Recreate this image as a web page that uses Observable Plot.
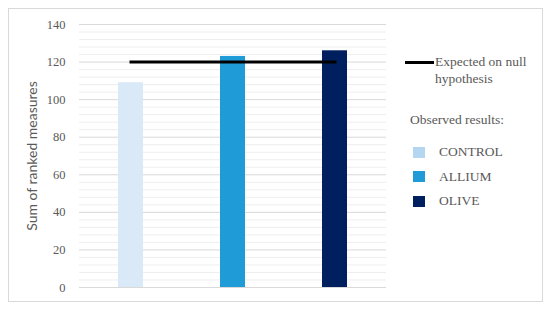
<!DOCTYPE html>
<html>
<head>
<meta charset="utf-8">
<script src="https://cdn.jsdelivr.net/npm/d3@7"></script>
<script src="https://cdn.jsdelivr.net/npm/@observablehq/plot@0.6"></script>
<style>
  html, body { margin: 0; padding: 0; background: #fff; }
  #wrap { position: relative; width: 550px; height: 311px; }
  #frame {
    position: absolute; left: 8px; top: 8px; width: 535px; height: 294px;
    border: 1px solid #d9d9d9; box-sizing: border-box; pointer-events: none;
  }
  #chart { position: absolute; left: 0; top: 0; }
  #legend {
    position: absolute; left: 405px; top: 53px;
    font-family: "Liberation Serif", serif; font-size: 13.5px; color: #595959;
  }
  #legend .exp { display: flex; align-items: flex-start; line-height: 17px; }
  #legend .exp .ln { width: 29px; height: 3px; background: #000; margin-top: 8px; flex: none; }
  #legend .exp .tx { margin-left: 1px; }
  #legend .obs { margin-top: 25px; margin-left: 5px; }
  #legend .item { display: flex; align-items: center; margin-top: 18px; margin-left: 8px; height: 12px; }
  #legend .sw { width: 12px; height: 11px; flex: none; }
  #legend .item span { margin-left: 14px; }
  #legend .item + .item { margin-top: 12.5px; }
</style>
</head>
<body>
<div id="wrap">
  <div id="chart"></div>
  <div id="frame"></div>
  <div id="legend"></div>
</div>
<script>
// Sum of ranked measures per treatment group
const groups = ["CONTROL", "ALLIUM", "OLIVE"];
const sums = [109, 123, 126];
const expectedSum = 120;
const barColors = ["#dae9f7", "#1f9bd7", "#001f5f"];
const swatchColors = ["#b5d6f1", "#1f9bd7", "#001f5f"];
const majorTicks = [0, 20, 40, 60, 80, 100, 120, 140];
const minorTicks = d3.range(0, 141, 4).filter(v => v % 20 !== 0);

const data = groups.map((g, i) => ({group: g, sum: sums[i]}));
const expectedLine = groups.map(g => ({group: g, value: expectedSum}));

const chart = Plot.plot({
  width: 550,
  height: 311,
  marginLeft: 79,
  marginRight: 164,
  marginTop: 24,
  marginBottom: 24,
  style: {fontFamily: "Liberation Serif, serif", fontSize: "12px", color: "#595959", background: "transparent"},
  x: {domain: groups, paddingInner: 0.755, paddingOuter: 0.38, axis: null},
  y: {domain: [0, 140], ticks: majorTicks},
  color: {domain: groups, range: barColors},
  marks: [
    Plot.ruleY(minorTicks, {stroke: "#eeeeee", strokeWidth: 1}),
    Plot.ruleY(majorTicks, {stroke: "#d9d9d9", strokeWidth: 1}),
    Plot.axisY({
      ticks: majorTicks, tickSize: 0, tickPadding: 14, fontSize: 12.5,
      label: null
    }),
    Plot.axisY({
      ticks: [], tickSize: 0, fontSize: 14, fontFamily: "Lato, sans-serif",
      label: "Sum of ranked measures", labelAnchor: "center", labelArrow: "none", labelOffset: 52
    }),
    Plot.barY(data, {x: "group", y: "sum", fill: "group"}),
    Plot.line(expectedLine, {x: "group", y: "value", stroke: "#000", strokeWidth: 3, strokeLinecap: "square"})
  ]
});
document.getElementById("chart").appendChild(chart);

// Legend
const legend = document.getElementById("legend");
legend.innerHTML =
  `<div class="exp"><div class="ln"></div><div class="tx">Expected on null<br>hypothesis</div></div>` +
  `<div class="obs">Observed results:</div>` +
  groups.map((g, i) => `<div class="item"><div class="sw" style="background:${swatchColors[i]}"></div><span>${g}</span></div>`).join("");
</script>
</body>
</html>
